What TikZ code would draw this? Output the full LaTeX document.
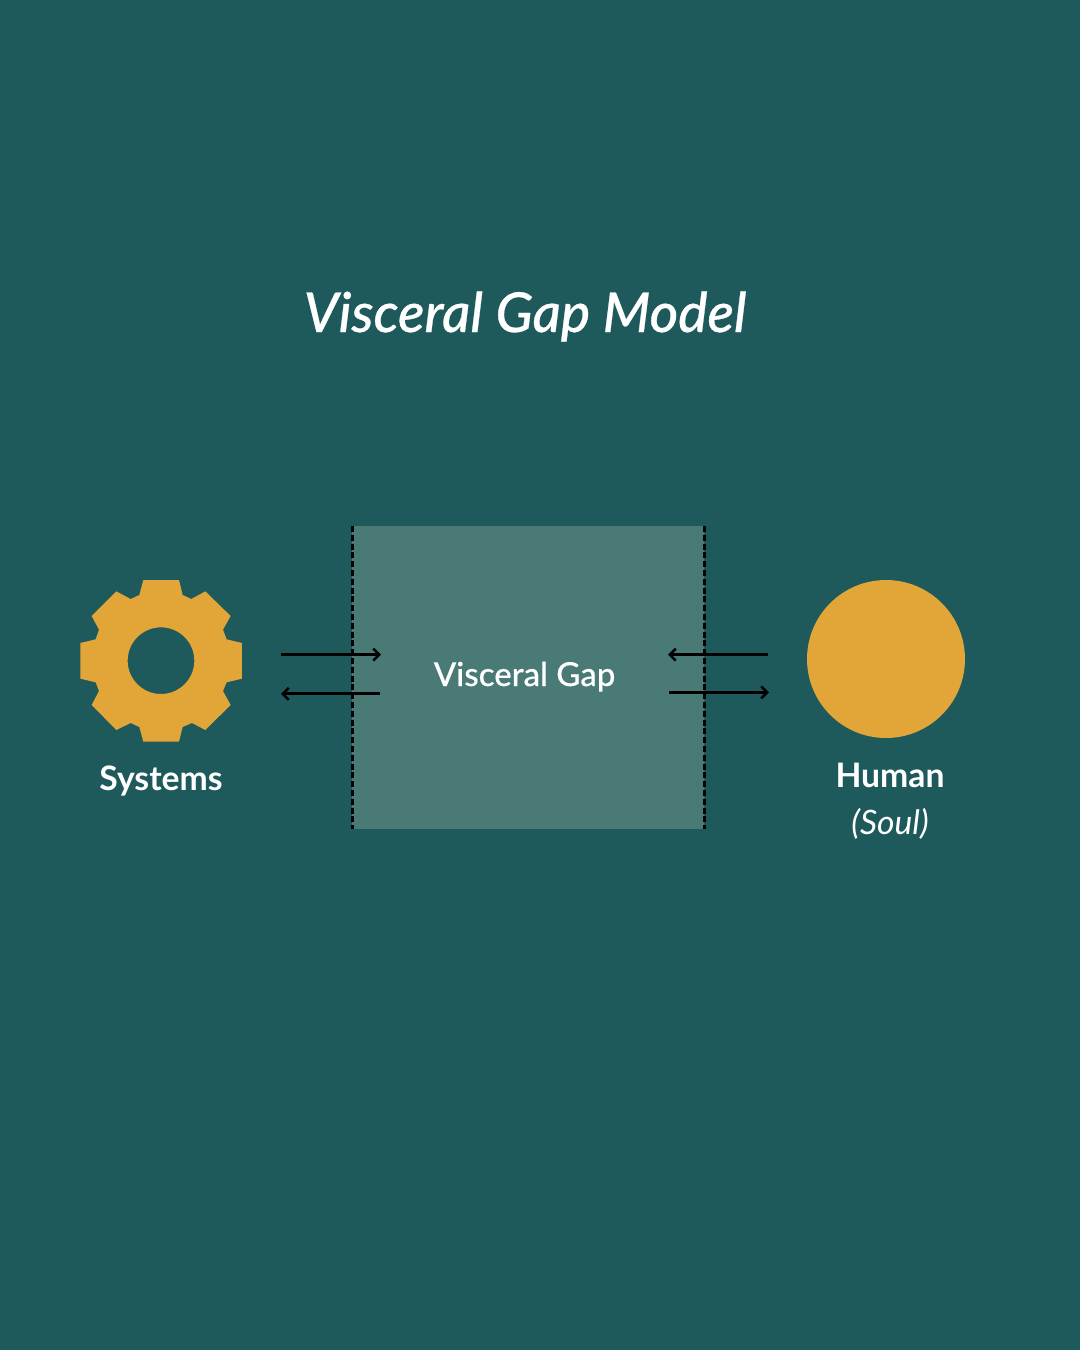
\documentclass[tikz,border=0pt]{standalone}
\usepackage{fontspec}
\setmainfont{Lato}
\newfontfamily\latomed{Lato Medium}[ItalicFont={Lato Medium Italic},ItalicFeatures={FakeBold=0.5},UprightFeatures={FakeBold=0.25}]
\usetikzlibrary{arrows.meta}
\definecolor{bgteal}{HTML}{1E5A5C}
\definecolor{gapteal}{HTML}{4A7A76}
\definecolor{gold}{HTML}{E1A538}
\tikzset{
  lbl/.style={text=white,inner sep=0pt,anchor=base},
  flow/.style={draw=black,line width=2.8pt,-{Straight Barb[length=6pt,width=12pt,line width=2.5pt]}},
  edge line/.style={draw=black,line width=2.8pt,dash pattern=on 6pt off 2.8pt}
}
\begin{document}
\begin{tikzpicture}[x=1pt,y=-1pt]
\useasboundingbox (0,0) rectangle (1080,1350);
\fill[bgteal] (0,0) rectangle (1080,1350);
\node[lbl,font=\latomed\itshape\fontsize{55}{60}\selectfont] (title) at (525,332) {Visceral Gap Model};
\node[fill=gapteal,minimum width=352pt,minimum height=303pt,inner sep=0pt,anchor=north west] (gap) at (352,526) {};
\coordinate (gl1) at (352.5,526); \coordinate (gl2) at (352.5,829);
\coordinate (gr1) at (704.5,526); \coordinate (gr2) at (704.5,829);
\draw[edge line] (gl1) -- (gl2);
\draw[edge line] (gr1) -- (gr2);
\node[lbl,font=\latomed\fontsize{33}{36}\selectfont] (gaplabel) at (524.5,686) {Visceral Gap};
\begin{scope}[shift={(60,560)},x=0.3333pt,y=-0.3333pt]
\fill[gold,even odd rule]
 (250,60)--(357,60)--(368,105)--(394,117)--(436,94)--(512,168)--(489,209)--(500,238)--(546,249)--(546,356)--(500,367)--(489,393)--(512,435)--(436,510)--(396,489)--(368,501)--(357,545)--(250,545)--(238,501)--(212,489)--(169,510)--(95,435)--(117,393)--(107,367)--(61,356)--(61,249)--(107,238)--(117,209)--(95,168)--(169,94)--(212,117)--(238,105)--cycle
 (403,302) arc[start angle=0,end angle=360,radius=100];
\end{scope}
\node[fill=gold,circle,minimum size=158pt,inner sep=0pt] (human) at (886,659) {};
\node[lbl,font=\bfseries\fontsize{33.7}{36}\selectfont] (systems) at (161,790) {Systems};
\node[lbl,font=\bfseries\fontsize{33.7}{36}\selectfont] (humanlabel) at (890,787) {Human};
\node[lbl,font=\itshape\fontsize{33.7}{36}\selectfont] (soul) at (890,834) {(Soul)};
\coordinate (a1s) at (281,654.7); \coordinate (a1e) at (381,654.7);
\coordinate (a2s) at (380,693.8); \coordinate (a2e) at (281,693.8);
\coordinate (a3s) at (768,654.7); \coordinate (a3e) at (668,654.7);
\coordinate (a4s) at (669,692.3); \coordinate (a4e) at (769,692.3);
\draw[flow] (a1s) -- (a1e);
\draw[flow] (a2s) -- (a2e);
\draw[flow] (a3s) -- (a3e);
\draw[flow] (a4s) -- (a4e);
\end{tikzpicture}
\end{document}
